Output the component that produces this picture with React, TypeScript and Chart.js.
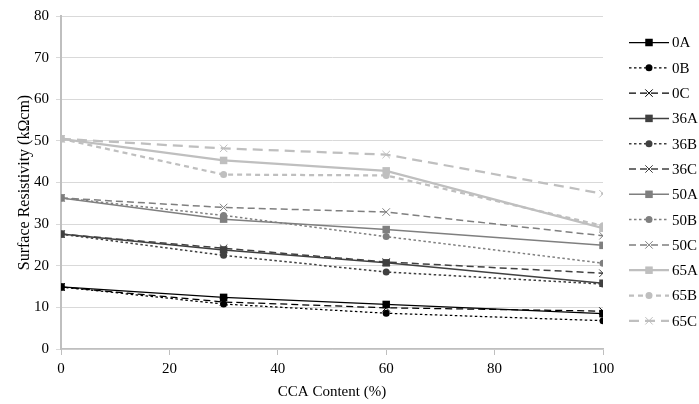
import React, { useEffect, useRef } from "react";
import { Chart, registerables } from "chart.js";

Chart.register(...registerables);

const xValues = [0, 30, 60, 100];
const seriesNames = ["0A", "0B", "0C", "36A", "36B", "36C", "50A", "50B", "50C", "65A", "65B", "65C"];
const v0A = [14.9, 12.4, 10.7, 8.5];
const v0B = [14.9, 10.8, 8.6, 6.8];
const v0C = [14.9, 11.3, 9.9, 9.1];
const v36A = [27.6, 23.8, 20.7, 15.8];
const v36B = [27.6, 22.5, 18.5, 15.6];
const v36C = [27.6, 24.2, 20.9, 18.2];
const v50A = [36.3, 31.2, 28.7, 24.9];
const v50B = [36.3, 32.1, 27.0, 20.6];
const v50C = [36.3, 34.0, 32.9, 27.2];
const v65A = [50.5, 45.3, 42.8, 29.0];
const v65B = [50.5, 41.9, 41.7, 29.6];
const v65C = [50.5, 48.2, 46.7, 37.3];
const allValues = [v0A, v0B, v0C, v36A, v36B, v36C, v50A, v50B, v50C, v65A, v65B, v65C];
const groupColors = ["#000000", "#404040", "#7f7f7f", "#bfbfbf"];
const groupWidths = [1.25, 1.5, 1.5, 2.25];
const yTicks = [0, 10, 20, 30, 40, 50, 60, 70, 80];
const xTicks = [0, 20, 40, 60, 80, 100];

const FONT = "'Liberation Serif', 'DejaVu Serif', serif";

type Kind = "A" | "B" | "C";
const kindOf = (i: number): Kind => (["A", "B", "C"] as Kind[])[i % 3];
const dashOf = (k: Kind, g: number) =>
  k === "A" ? [] : k === "B" ? (g === 3 ? [5, 4] : [2.5, 2.5]) : g === 3 ? [10, 6] : [7, 4];
const pointStyleOf = (k: Kind) => (k === "A" ? "rect" : k === "B" ? "circle" : "crossRot");
const radiusOf = (k: Kind) => (k === "A" ? 5.3 : k === "B" ? 3.5 : 5.3);

const legendPlugin = {
  id: "customLegend",
  afterDraw(chart: any) {
    const ctx = chart.ctx;
    ctx.save();
    seriesNames.forEach((name, i) => {
      const g = Math.floor(i / 3);
      const k = kindOf(i);
      const y = 42.5 + i * 25.3;
      const x1 = 629;
      const x2 = 669;
      const color = groupColors[g];
      ctx.strokeStyle = color;
      ctx.fillStyle = color;
      ctx.lineWidth = groupWidths[g];
      ctx.setLineDash(dashOf(k, g));
      ctx.beginPath();
      ctx.moveTo(x1, y);
      ctx.lineTo(x2, y);
      ctx.stroke();
      ctx.setLineDash([]);
      const cx = (x1 + x2) / 2;
      if (k === "A") {
        ctx.fillRect(cx - 3.75, y - 3.75, 7.5, 7.5);
      } else if (k === "B") {
        ctx.beginPath();
        ctx.arc(cx, y, 3.5, 0, Math.PI * 2);
        ctx.fill();
      } else {
        ctx.lineWidth = 1;
        ctx.beginPath();
        ctx.moveTo(cx - 3.7, y - 3.7);
        ctx.lineTo(cx + 3.7, y + 3.7);
        ctx.moveTo(cx + 3.7, y - 3.7);
        ctx.lineTo(cx - 3.7, y + 3.7);
        ctx.stroke();
      }
      ctx.fillStyle = "#000";
      ctx.font = `15px ${FONT}`;
      ctx.textBaseline = "middle";
      ctx.textAlign = "left";
      ctx.fillText(name, 672, y + 1);
    });
    ctx.restore();
  },
};

export default function App() {
  const ref = useRef<HTMLCanvasElement | null>(null);
  useEffect(() => {
    if (!ref.current) return;
    const datasets = seriesNames.map((name, i) => {
      const g = Math.floor(i / 3);
      const k = kindOf(i);
      return {
        label: name,
        data: xValues.map((x, j) => ({ x, y: allValues[i][j] })),
        borderColor: groupColors[g],
        backgroundColor: groupColors[g],
        borderWidth: groupWidths[g],
        borderDash: dashOf(k, g),
        pointStyle: pointStyleOf(k),
        pointRadius: radiusOf(k),
        pointBorderWidth: k === "C" ? 1 : 0,
        pointBorderColor: groupColors[g],
        pointBackgroundColor: groupColors[g],
        tension: 0,
        order: 12 - i,
      };
    });
    const chart = new Chart(ref.current, {
      type: "line",
      data: { datasets },
      options: {
        animation: false,
        responsive: false,
        layout: { padding: { top: 11, right: 96, left: 0, bottom: 0 } },
        plugins: { legend: { display: false }, tooltip: { enabled: false } },
        scales: {
          x: {
            type: "linear",
            min: 0,
            max: 100,
            afterBuildTicks: (s: any) => {
              s.ticks = xTicks.map((v) => ({ value: v }));
            },
            afterFit: (s: any) => {
              s.height = 55;
            },
            grid: {
              display: true,
              drawOnChartArea: false,
              drawTicks: true,
              tickLength: 6,
              color: "#bfbfbf",
            },
            border: { display: true, color: "#bfbfbf", width: 1.5 },
            ticks: { color: "#000", font: { family: FONT, size: 15 }, padding: 5, maxRotation: 0 },
            title: {
              display: true,
              text: "CCA Content (%)",
              color: "#000",
              font: { family: FONT, size: 15 },
              padding: { top: 4, bottom: 3 },
            },
          },
          y: {
            type: "linear",
            min: 0,
            max: 80,
            afterBuildTicks: (s: any) => {
              s.ticks = yTicks.map((v) => ({ value: v }));
            },
            afterFit: (s: any) => {
              s.width = 61;
            },
            grid: {
              display: true,
              drawOnChartArea: true,
              drawTicks: true,
              tickLength: 5,
              color: "#d9d9d9",
              lineWidth: 1,
            },
            border: { display: true, color: "#bfbfbf", width: 2 },
            ticks: { color: "#000", font: { family: FONT, size: 15 }, padding: 7 },
            title: {
              display: true,
              text: "Surface Resistivity (kΩcm)",
              color: "#000",
              font: { family: FONT, size: 16 },
              padding: { top: 15, bottom: 0 },
            },
          },
        },
      },
      plugins: [legendPlugin],
    } as any);
    return () => chart.destroy();
  }, []);
  return (
    <div style={{ position: "fixed", left: 0, top: 0, width: 699, height: 404, background: "#fff" }}>
      <canvas ref={ref} width={699} height={404} style={{ width: 699, height: 404 }} />
    </div>
  );
}
